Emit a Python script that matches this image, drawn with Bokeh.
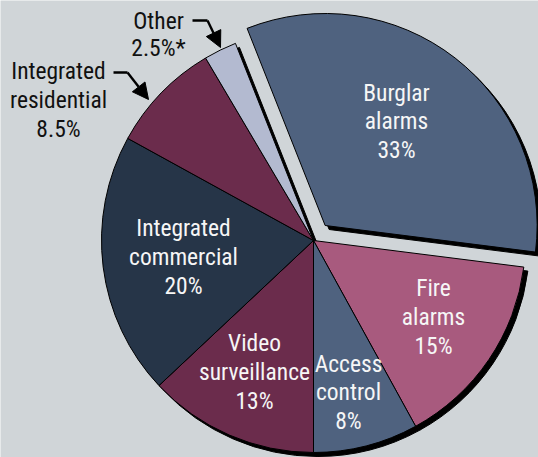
import numpy as np
from bokeh.plotting import figure
from bokeh.models import Range1d, ColumnDataSource, Arrow, NormalHead
from bokeh.core.properties import value
from bokeh.embed import file_html
from bokeh.resources import INLINE

# ---- data ----
categories = ["Burglar alarms", "Fire alarms", "Access control", "Video surveillance",
              "Integrated commercial", "Integrated residential", "Other"]
shares = [33, 15, 8, 13, 20, 8.5, 2.5]
name_lines = [["Burglar", "alarms"], ["Fire", "alarms"], ["Access", "control"],
              ["Video", "surveillance"], ["Integrated", "commercial"],
              ["Integrated", "residential"], ["Other"]]
footnote_marks = ["", "", "", "", "", "", "*"]

# ---- style / layout ----
colors = ["#4f627f", "#a85a7e", "#4f627f", "#6b2c4c", "#263548", "#6b2c4c", "#b3bad0"]
text_colors = ["#f6f6f6", "#f6f6f6", "#f6f6f6", "#f6f6f6", "#f6f6f6", "#111111", "#111111"]
BG = "#d0d5d8"
W, H = 538, 457
FONT = "'Roboto Condensed', 'DejaVu Sans Condensed', 'Liberation Sans Narrow', Roboto, sans-serif"
FS = "23.5px"

def P(X, Y):
    """page pixel -> data coords"""
    return X, H - Y

CX, CY = P(313, 240)
R = 212
START_CW = -21.6          # degrees clockwise from 12 o'clock
EXPLODE = [19, 0, 0, 0, 0, 0, 0]
SHADOW = (4, -4)
# label anchors (page coords): centre x, first baseline y, line spacing
label_pos = [(396, 92, 28.8), (433, 287, 29), (348, 363, 28.6), (254, 342, 29),
             (183, 227, 29), (58, 70, 29), (158, 20, 27)]
# arrow polylines (page coords) for outside labels
arrows = {5: [(113, 72), (127, 72), (148, 99)], 6: [(192, 20), (207, 20), (220, 47)]}

total = float(sum(shares))
cw_start = START_CW + 360 * np.concatenate([[0], np.cumsum(shares)[:-1]]) / total
cw_end = cw_start + 360 * np.array(shares) / total
mid = (cw_start + cw_end) / 2
xs = CX + np.array(EXPLODE) * np.sin(np.radians(mid))
ys = CY + np.array(EXPLODE) * np.cos(np.radians(mid))
start_ang = np.radians(90 - cw_start)
end_ang = np.radians(90 - cw_end)

p = figure(width=W, height=H, x_range=Range1d(0, W), y_range=Range1d(0, H),
           output_backend="svg", toolbar_location=None, min_border=0)
p.axis.visible = False
p.grid.visible = False
p.outline_line_color = None
p.background_fill_color = BG
p.border_fill_color = BG

src = ColumnDataSource(dict(x=xs, y=ys, sx=xs + SHADOW[0], sy=ys + SHADOW[1],
                            start=start_ang, end=end_ang, color=colors, cat=categories))
p.wedge(x="sx", y="sy", radius=R, start_angle="start", end_angle="end", direction="clock",
        source=src, fill_color="black", line_color="black", line_width=1)
p.wedge(x="x", y="y", radius=R, start_angle="start", end_angle="end", direction="clock",
        source=src, fill_color="color", line_color="black", line_width=1)

# labels
tx, ty, tt, tc = [], [], [], []
for i, v in enumerate(shares):
    lines = name_lines[i] + [f"{v:g}%{footnote_marks[i]}"]
    X, Y0, dy = label_pos[i]
    for k, s in enumerate(lines):
        x, y = P(X, Y0 + k * dy)
        tx.append(x); ty.append(y); tt.append(s); tc.append(text_colors[i])
p.text(x=tx, y=ty, text=tt, text_color=tc, text_font=value(FONT), text_font_size=FS,
       text_align="center", text_baseline="alphabetic")

for i, pts in arrows.items():
    d = [P(*q) for q in pts]
    p.line([d[0][0], d[1][0]], [d[0][1], d[1][1]], line_color="black", line_width=2.4)
    p.add_layout(Arrow(end=NormalHead(size=16, fill_color="black", line_color="black"),
                       x_start=d[1][0], y_start=d[1][1], x_end=d[2][0], y_end=d[2][1],
                       line_color="black", line_width=2.4))

html = file_html(p, INLINE)
html = html.replace("<body>", f'<body style="background:{BG};">', 1)
open("out.html", "w").write(html)
